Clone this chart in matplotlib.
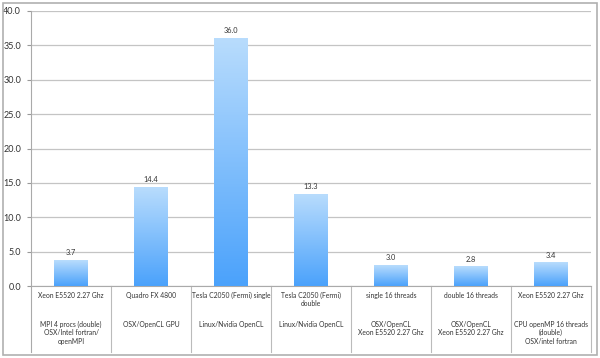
import numpy as np
import matplotlib
matplotlib.use("Agg")
import matplotlib.pyplot as plt
from matplotlib.colors import LinearSegmentedColormap
from matplotlib.patches import Rectangle

# data
values = [3.7, 14.4, 36.0, 13.3, 3.0, 2.8, 3.4]
labels_top = ["Xeon E5520 2.27 Ghz",
              "Quadro FX 4800",
              "Tesla C2050 (Fermi) single",
              "Tesla C2050 (Fermi)\ndouble",
              "single 16 threads",
              "double 16 threads",
              "Xeon E5520 2.27 Ghz"]
labels_bottom = ["MPI 4 procs (double)\nOSX/Intel fortran/\nopenMPI",
                 "OSX/OpenCL GPU",
                 "Linux/Nvidia OpenCL",
                 "Linux/Nvidia OpenCL",
                 "OSX/OpenCL\nXeon E5520 2.27 Ghz",
                 "OSX/OpenCL\nXeon E5520 2.27 Ghz",
                 "CPU openMP 16 threads\n(double)\nOSX/intel fortran"]
yticks = [0, 5, 10, 15, 20, 25, 30, 35, 40]

plt.rcParams['font.family'] = ['Lato', 'DejaVu Sans']

W, H = 600, 358
fig = plt.figure(figsize=(W / 100, H / 100), dpi=100)
ax = fig.add_axes([31 / W, 1 - 286 / H, 560 / W, 275 / H])

n = len(values)
x = np.arange(n)
bw = 0.425
cmap = LinearSegmentedColormap.from_list("bar", ["#4ba2fb", "#b8dcfd"])
grad = np.linspace(0, 1, 100).reshape(-1, 1)

for i, v in enumerate(values):
    im = ax.imshow(grad, cmap=cmap, aspect="auto", origin="lower",
                   extent=[x[i] - bw / 2, x[i] + bw / 2, 0, v], zorder=3)
    ax.text(x[i], v + 0.6, "%.1f" % v, ha="center", va="bottom",
            fontsize=5.3, color="#333333", zorder=4)

ax.set_xlim(-0.5, n - 0.5)
ax.set_ylim(0, 40)
ax.set_yticks(yticks)
ax.set_yticklabels(["%.1f" % t for t in yticks], fontsize=6.5, color="#333333")
ax.set_xticks([])
ax.tick_params(axis="y", length=3, color="#999999", width=0.8, pad=4)
ax.yaxis.grid(True, color="#c4c4c4", lw=0.9, zorder=0)
ax.set_axisbelow(True)
for s in ["top", "right"]:
    ax.spines[s].set_visible(False)
ax.spines["left"].set_color("#aaaaaa")
ax.spines["bottom"].set_color("#aaaaaa")

# category table under the axis
tr = ax.get_xaxis_transform()
ybot = (286 - 352) / 275
ax.plot([-0.5, -0.5], [0, ybot], transform=tr, color="#aaaaaa", lw=0.8, clip_on=False)
for i in range(n):
    ax.plot([i + 0.5, i + 0.5], [0, ybot], transform=tr, color="#bbbbbb",
            lw=0.8, clip_on=False)
    ax.text(x[i], (286 - 292) / 275, labels_top[i], transform=tr, ha="center",
            va="top", fontsize=4.9, color="#333333", linespacing=1.2)
    ax.text(x[i], (286 - 321) / 275, labels_bottom[i], transform=tr, ha="center",
            va="top", fontsize=4.9, color="#333333", linespacing=1.2)

# outer frame
fig.patches.append(Rectangle((3 / W, 3 / H), 594 / W, 352 / H, transform=fig.transFigure,
                             fill=False, edgecolor="#b0b0b0", lw=1.2))

fig.savefig("out.png", dpi=100)
